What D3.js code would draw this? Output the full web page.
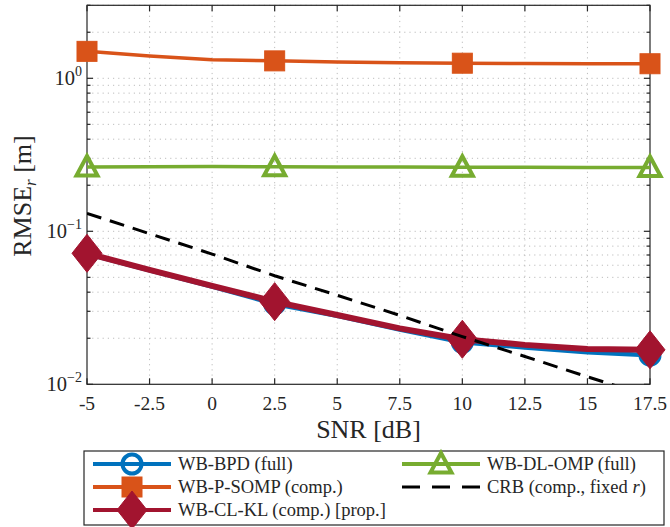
<!DOCTYPE html>
<html lang="en">
<head>
<meta charset="utf-8">
<title>RMSE vs SNR</title>
<script src="https://d3js.org/d3.v7.min.js"></script>
<style>
  body { margin: 0; background: white; }
  svg text { font-family: "Liberation Serif", "Times New Roman", serif; fill: #262626; }
</style>
</head>
<body>
<div id="chart"></div>
<script>
    // SNR grid [dB], markers drawn on every third point
    var snr = [-5, -2.5, 0, 2.5, 5, 7.5, 10, 12.5, 15, 17.5];
    var xTicks = [-5, -2.5, 0, 2.5, 5, 7.5, 10, 12.5, 15, 17.5];
    var yMajor = [0.01, 0.1, 1];

    // RMSE_r [m] per method
    var bpd    = [0.0712, 0.0555, 0.0435, 0.0335, 0.0280, 0.0228, 0.0188, 0.0174, 0.0162, 0.0155];
    var dlomp  = [0.263, 0.264, 0.265, 0.264, 0.263, 0.263, 0.262, 0.262, 0.261, 0.261];
    var psomp  = [1.50, 1.40, 1.32, 1.30, 1.28, 1.265, 1.255, 1.25, 1.245, 1.245];
    var clkl   = [0.0718, 0.0560, 0.0440, 0.0347, 0.0284, 0.0232, 0.0197, 0.0181, 0.0170, 0.0168];
    var crb    = [0.131, 0.0965, 0.0710, 0.0512, 0.0382, 0.0282, 0.0205, 0.0152, 0.0112, 0.0083];

    var w = 670, h = 527;
    var pL = 87, pR = 650, pT = 5.3, pB = 384.3;

    var x = d3.scaleLinear().domain([-5, 17.5]).range([pL, pR]);
    var y = d3.scaleLog().domain([0.01, 3]).range([pB, pT]);

    var svg = d3.select("#chart").append("svg")
        .attr("width", w).attr("height", h);

    svg.append("defs").append("clipPath").attr("id", "plotclip")
        .append("rect").attr("x", pL).attr("y", pT)
        .attr("width", pR - pL).attr("height", pB - pT);

    //minor log ticks 2..9 per decade
    var yMinor = [];
    [0.01, 0.1, 1].forEach(function(d) {
        for (var k = 2; k <= 9; k++) {
            if (d * k <= 3) yMinor.push(d * k);
        }
    });

    // grid
    var grid = svg.append("g").attr("stroke", "#bdbdbd").attr("stroke-width", 1)
        .attr("stroke-dasharray", "1.2,4");
    grid.selectAll("line.gx").data(xTicks.slice(1, -1)).enter().append("line")
        .attr("x1", d => x(d)).attr("x2", d => x(d))
        .attr("y1", pT).attr("y2", pB);
    grid.selectAll("line.gy").data(yMinor.concat([0.1, 1])).enter().append("line")
        .attr("x1", pL).attr("x2", pR)
        .attr("y1", d => y(d)).attr("y2", d => y(d));

    // axes box + inward ticks
    var ax = svg.append("g").attr("stroke", "#262626").attr("stroke-width", 1.2);
    ax.append("rect").attr("x", pL).attr("y", pT)
        .attr("width", pR - pL).attr("height", pB - pT).attr("fill", "none");
    xTicks.forEach(function(t) {
        ax.append("line").attr("x1", x(t)).attr("x2", x(t)).attr("y1", pB).attr("y2", pB - 6);
        ax.append("line").attr("x1", x(t)).attr("x2", x(t)).attr("y1", pT).attr("y2", pT + 6);
    });
    yMajor.forEach(function(t) {
        ax.append("line").attr("x1", pL).attr("x2", pL + 6).attr("y1", y(t)).attr("y2", y(t));
        ax.append("line").attr("x1", pR).attr("x2", pR - 6).attr("y1", y(t)).attr("y2", y(t));
    });
    yMinor.forEach(function(t) {
        ax.append("line").attr("x1", pL).attr("x2", pL + 3.5).attr("y1", y(t)).attr("y2", y(t));
        ax.append("line").attr("x1", pR).attr("x2", pR - 3.5).attr("y1", y(t)).attr("y2", y(t));
    });

    // tick labels
    svg.selectAll("text.xt").data(xTicks).enter().append("text")
        .attr("x", d => x(d)).attr("y", 410)
        .attr("text-anchor", "middle").style("font-size", "19.5px")
        .text(d => d);

    var ylab = svg.selectAll("text.yt").data(yMajor).enter().append("text")
        .attr("x", 82).attr("y", d => y(d) + 7)
        .attr("text-anchor", "end").style("font-size", "20.5px");
    ylab.append("tspan").text("10");
    ylab.append("tspan").attr("dy", -9).style("font-size", "14px")
        .text(d => d === 1 ? "0" : "\u2212" + Math.round(-Math.log10(d)));

    // axis labels
    svg.append("text").attr("x", (pL + pR) / 2).attr("y", 438)
        .attr("text-anchor", "middle").style("font-size", "26px").text("SNR [dB]");
    var yl = svg.append("text")
        .attr("transform", "translate(31,196) rotate(-90)")
        .attr("text-anchor", "middle").style("font-size", "26px");
    yl.append("tspan").text("RMSE");
    yl.append("tspan").attr("dy", 5).style("font-size", "17px").style("font-style", "italic").text("r");
    yl.append("tspan").attr("dy", -5).text(" [m]");

    // series
    var series = [
        {name: "WB-BPD (full)", data: bpd, color: "#0072BD", lw: 4.5, marker: "circle"},
        {name: "WB-DL-OMP (full)", data: dlomp, color: "#77AC30", lw: 3.5, marker: "triangle"},
        {name: "WB-P-SOMP (comp.)", data: psomp, color: "#D95319", lw: 3.5, marker: "square"},
        {name: "WB-CL-KL (comp.) [prop.]", data: clkl, color: "#A2142F", lw: 6, marker: "diamond"},
        {name: "CRB (comp., fixed r)", data: crb, color: "#000000", lw: 3, marker: "none", dash: "15,9"}
    ];

    var line = d3.line().x((d, i) => x(snr[i])).y(d => y(d));

    function drawMarker(g, type, cx, cy, color) {
        if (type === "circle") {
            g.append("circle").attr("cx", cx).attr("cy", cy).attr("r", 9.5)
                .attr("fill", "none").attr("stroke", color).attr("stroke-width", 4);
        } else if (type === "square") {
            g.append("rect").attr("x", cx - 10).attr("y", cy - 10)
                .attr("width", 20).attr("height", 20).attr("fill", color)
                .attr("stroke", color).attr("stroke-width", 1);
        } else if (type === "triangle") {
            g.append("path")
                .attr("d", "M" + cx + "," + (cy - 11) + "L" + (cx + 10.5) + "," + (cy + 8.5) + "L" + (cx - 10.5) + "," + (cy + 8.5) + "Z")
                .attr("fill", "none").attr("stroke", color).attr("stroke-width", 4)
                .attr("stroke-linejoin", "miter");
        } else if (type === "diamond") {
            g.append("path")
                .attr("d", "M" + cx + "," + (cy - 19) + "L" + (cx + 15) + "," + cy + "L" + cx + "," + (cy + 19) + "L" + (cx - 15) + "," + cy + "Z")
                .attr("fill", color).attr("stroke", color).attr("stroke-width", 1);
        }
    }

    series.forEach(function(s) {
        var g = svg.append("g");
        var p = g.append("path").datum(s.data)
            .attr("d", line)
            .attr("fill", "none")
            .attr("stroke", s.color)
            .attr("stroke-width", s.lw)
            .attr("stroke-linejoin", "round");
        if (s.dash) p.attr("stroke-dasharray", s.dash).attr("clip-path", "url(#plotclip)");
        s.data.forEach(function(d, i) {
            if (i % 3 === 0) drawMarker(g, s.marker, x(snr[i]), y(d), s.color);
        });
    });

    // legend
    var lg = svg.append("g");
    lg.append("rect").attr("x", 84).attr("y", 451).attr("width", 580).attr("height", 74)
        .attr("fill", "white").attr("stroke", "#262626").attr("stroke-width", 1.2);
    var slots = [
        {s: 0, x0: 93, y0: 464}, {s: 1, x0: 402, y0: 464},
        {s: 2, x0: 93, y0: 487}, {s: 4, x0: 402, y0: 487},
        {s: 3, x0: 93, y0: 510}
    ];
    slots.forEach(function(sl) {
        var s = series[sl.s];
        var l = lg.append("line").attr("x1", sl.x0).attr("x2", sl.x0 + 78)
            .attr("y1", sl.y0).attr("y2", sl.y0)
            .attr("stroke", s.color).attr("stroke-width", s.dash ? 3 : 4);
        if (s.dash) l.attr("stroke-dasharray", "18,12");
        drawMarker(lg, s.marker, sl.x0 + 39, sl.y0, s.color);
        var t = lg.append("text").attr("x", sl.x0 + 85).attr("y", sl.y0 + 6)
            .style("font-size", "18.5px");
        if (sl.s === 4) {
            t.append("tspan").text("CRB (comp., fixed ");
            t.append("tspan").style("font-style", "italic").text("r");
            t.append("tspan").text(")");
        } else {
            t.text(s.name);
        }
    });
</script>
</body>
</html>
